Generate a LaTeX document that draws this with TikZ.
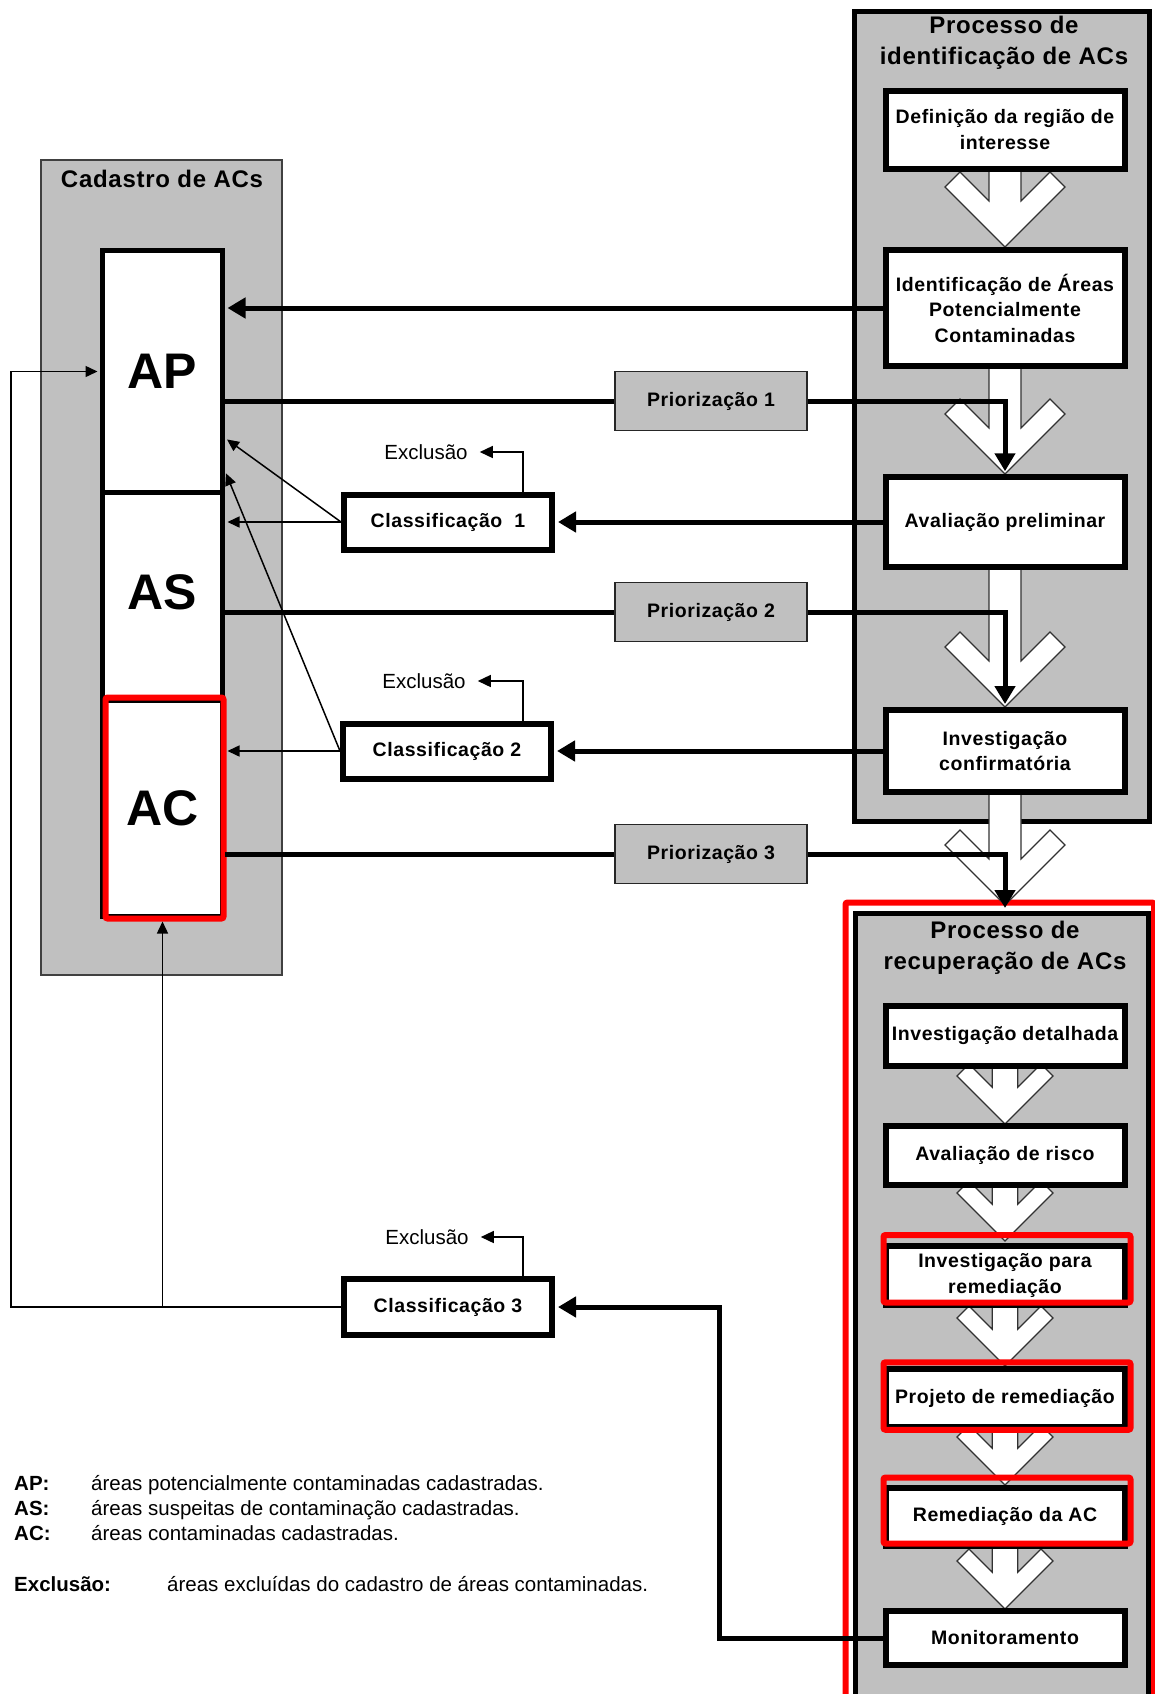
\documentclass[tikz,border=0pt]{standalone}
\usepackage{fontspec}
\setmainfont{Liberation Sans}
\newfontfamily\lsfont[LetterSpace=3]{Liberation Sans}
\usetikzlibrary{arrows.meta,calc}
\definecolor{bggray}{RGB}{192,192,192}
\definecolor{hlred}{RGB}{255,0,0}
\definecolor{chevline}{RGB}{50,50,50}
\newcommand\mychev[4]{%
  \pgfmathsetmacro\mychA{60*#4}%
  \pgfmathsetmacro\mychD{15*#4}%
  \pgfmathsetmacro\mychH{16*#4}%
  \filldraw[chev] (#1-\mychH,#2) -- (#1-\mychH,#3-2*\mychD-\mychH) -- (#1-\mychA+\mychD,#3-\mychA-\mychD) -- (#1-\mychA,#3-\mychA) -- (#1,#3) -- (#1+\mychA,#3-\mychA) -- (#1+\mychA-\mychD,#3-\mychA-\mychD) -- (#1+\mychH,#3-2*\mychD-\mychH) -- (#1+\mychH,#2) -- cycle;}
\begin{document}
\begin{tikzpicture}[x=1pt,y=-1pt,
  boxfont/.style={font=\lsfont\bfseries\fontsize{19.5}{25.5}\selectfont},
  procbox/.style={boxfont, draw=black, line width=6pt, fill=white, inner sep=0pt, minimum width=239pt, align=center},
  clbox/.style={boxfont, draw=black, line width=6pt, fill=white, inner sep=0pt, minimum width=208pt, minimum height=55pt},
  priobox/.style={boxfont, draw=black!85, line width=1.5pt, fill=bggray, inner sep=0pt, minimum width=192pt, minimum height=59pt},
  colbox/.style={draw=black, line width=5pt, fill=white, inner sep=0pt, minimum width=120pt, font=\bfseries\fontsize{50}{60}\selectfont},
  cont/.style={draw=black, line width=5pt, fill=bggray, inner sep=0pt},
  conttitle/.style={font=\lsfont\bfseries\fontsize{24}{31}\selectfont, align=center},
  redhl/.style={draw=hlred, line width=6pt, rounded corners=2pt},
  chev/.style={fill=white, draw=chevline, line width=1.2pt},
  thickline/.style={line width=5pt},
  thickarrow/.style={line width=5pt, -{Triangle[length=18pt,width=20pt]}},
  thinline/.style={line width=1.5pt},
  thinarrow/.style={line width=1.5pt, -{Triangle[length=12pt,width=11pt]}},
  exarrow/.style={line width=1.5pt, -{Triangle[length=13pt,width=12pt]}},
  exlbl/.style={font=\fontsize{20.5}{24}\selectfont, inner xsep=12pt, inner ysep=0pt},
  legend/.style={font=\fontsize{20.5}{24}\selectfont, anchor=base west, inner sep=0pt},
  legendkey/.style={legend, font=\bfseries\fontsize{20.5}{24}\selectfont},
]
\useasboundingbox (0,0) rectangle (1155,1694);
\clip (0,0) rectangle (1155,1694);

% left container
\node[draw=black!75, line width=1.5pt, fill=bggray, minimum width=241pt, minimum height=815pt, inner sep=0pt] (cad) at (161.5,567.5) {};
\node[conttitle] (cadt) at (162,179) {Cadastro de ACs};

% right containers
\node[cont, minimum width=295pt, minimum height=810pt] (pid) at (1002,416.5) {};
\node[conttitle] (pidt) at (1004,42.5) {Processo de\\identificação de ACs};
\node[cont, minimum width=293pt, minimum height=810pt] (prec) at (1001.5,1318.5) {};
\draw[redhl] ($(prec.north west)+(-7,-8.5)$) rectangle ($(prec.south east)+(3.5,0)$);
\node[conttitle] (prect) at (1005,948) {Processo de\\recuperação de ACs};

% chevron arrows
\mychev{1005}{168.5}{247}{1}
\mychev{1005}{366.5}{474}{1}
\mychev{1005}{567}{707}{1}
\mychev{1005}{792}{905}{1}
\mychev{1005}{1065.5}{1124}{0.8}
\mychev{1005}{1184.5}{1241}{0.8}
\mychev{1005}{1305}{1366}{0.8}
\mychev{1005}{1427}{1485}{0.8}
\mychev{1005}{1545.5}{1609}{0.8}

% process boxes
\node[procbox, minimum height=78pt] (def) at (1005,129.5) {Definição da região de\\interesse};
\node[procbox, minimum height=116.5pt] (ident) at (1005,308) {Identificação de Áreas\\Potencialmente\\Contaminadas};
\node[procbox, minimum height=89.5pt] (aval) at (1005,522) {Avaliação preliminar};
\node[procbox, minimum height=82pt] (invc) at (1005,751) {Investigação\\confirmatória};
\node[procbox, minimum height=60pt] (invdet) at (1005,1035.5) {Investigação detalhada};
\node[procbox, minimum height=59pt] (risco) at (1005,1155) {Avaliação de risco};
\node[procbox, minimum height=59pt] (invrem) at (1005,1275.5) {Investigação para\\remediação};
\node[procbox, minimum height=57.5pt] (proj) at (1005,1398) {Projeto de remediação};
\node[procbox, minimum height=58pt] (remac) at (1005,1516.5) {Remediação da AC};
\node[procbox, minimum height=54.5pt] (monit) at (1005,1638) {Monitoramento};
\draw[redhl] ($(invrem.north west)+(1,-8)$) rectangle ($(invrem.south east)+(3,-5.5)$);
\draw[redhl] ($(proj.north west)+(1,-4)$) rectangle ($(proj.south east)+(3,0)$);
\draw[redhl] ($(remac.north west)+(1,-7)$) rectangle ($(remac.south east)+(3,-5)$);

% register column
\node[colbox, minimum height=242pt] (ap) at (162.5,371.5) {AP};
\node[colbox, minimum height=207.5pt, text depth=8pt] (as) at (162.5,596.25) {AS};
\node[colbox, minimum height=216pt] (ac) at (162.5,808) {AC};
\draw[redhl] ($(ac.north west)+(5.5,0)$) rectangle ($(ac.south east)+(-1.5,0)$);

% prioritisation boxes
\node[priobox] (p1) at (711,401) {Priorização 1};
\node[priobox] (p2) at (711,612) {Priorização 2};
\node[priobox] (p3) at (711,854) {Priorização 3};

% classification boxes
\node[clbox] (c1) at (448,522) {Classificação\ \ 1};
\node[clbox] (c2) at (447,751) {Classificação 2};
\node[clbox, minimum height=56pt] (c3) at (448,1307) {Classificação 3};

\node[exlbl] (ex1) at (426,452) {Exclusão};
\node[exlbl] (ex2) at (424,681) {Exclusão};
\node[exlbl] (ex3) at (427,1237) {Exclusão};

% thick connectors
\draw[thickarrow, shorten >=2.5pt] (ident.west) -- (ident.west -| ap.east);
\draw[thickline] (p1.west -| ap.east) -- (p1.west);
\draw[thickarrow, shorten >=3pt] (p1.east) -| (aval.north);
\draw[thickline] (p2.west -| as.east) -- (p2.west);
\draw[thickarrow, shorten >=3pt] (p2.east) -| (invc.north);
\draw[thickline] (p3.west -| ac.east) -- (p3.west);
\draw[thickarrow, shorten >=3pt] (p3.east) -| (prec.north -| aval.north);
\draw[thickarrow, shorten >=3pt] (aval.west) -- (c1.east);
\draw[thickarrow, shorten >=3pt] (invc.west) -- (c2.east);
\coordinate (mcorner) at (719,1638);
\draw[thickarrow, shorten >=3pt] (monit.west) -- (mcorner) |- (c3.east);

% exclusion arrows
\draw[exarrow] ($(c1.north)+(75,0)$) |- (ex1.east);
\draw[exarrow] ($(c2.north)+(76,0)$) |- (ex2.east);
\draw[exarrow] ($(c3.north)+(75,0)$) |- (ex3.east);

% thin connectors to the register
\draw[thinarrow, shorten >=2.5pt] (c1.west) -- (c1.west -| as.east);
\draw[thinarrow, shorten >=2.5pt] (c1.west) -- ($(ap.south east)+(0,-57)$);
\draw[thinarrow, shorten >=2.5pt] (c2.west) -- (c2.west -| ac.east);
\draw[thinarrow, shorten >=2.5pt] (c2.west) -- ($(ap.south east)+(0,-24)$);
\coordinate (lloop) at (11,1307);
\draw[thinarrow, shorten >=2.5pt] (c3.west) -- (lloop) |- (ap.west);
\draw[thinarrow, shorten >=3pt] (ac.south |- c3.west) -- (ac.south);

% legend
\node[legendkey] (lap) at (14,1490) {AP:};
\node[legend] (lapd) at (91,1490) {áreas potencialmente contaminadas cadastradas.};
\node[legendkey] (las) at (14,1515) {AS:};
\node[legend] (lasd) at (91,1515) {áreas suspeitas de contaminação cadastradas.};
\node[legendkey] (lac) at (14,1540) {AC:};
\node[legend] (lacd) at (91,1540) {áreas contaminadas cadastradas.};
\node[legendkey] (lex) at (14,1591) {Exclusão:};
\node[legend] (lexd) at (167,1591) {áreas excluídas do cadastro de áreas contaminadas.};
\end{tikzpicture}
\end{document}
